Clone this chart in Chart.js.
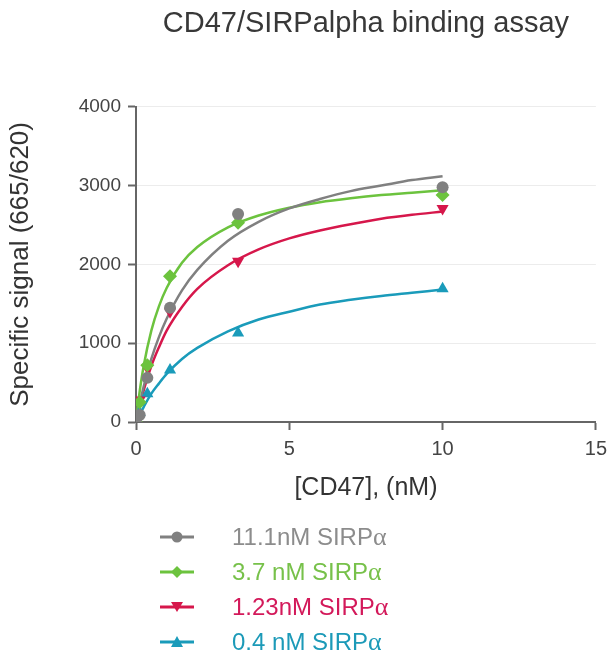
<!DOCTYPE html>
<html>
<head>
<meta charset="utf-8">
<script src="https://cdn.jsdelivr.net/npm/chart.js@4.4.1/dist/chart.umd.min.js"></script>
<style>
  html, body { margin: 0; padding: 0; background: #fff; }
  #wrap { position: relative; width: 614px; height: 659px; }
  #legend { position: absolute; left: 0; top: 0; width: 614px; height: 659px; pointer-events: none;
            font-family: "Liberation Sans", Arial, sans-serif; font-size: 24px; }
  .row { position: absolute; left: 158px; height: 30px; display: flex; align-items: center; white-space: nowrap; }
  .row svg { width: 40px; height: 20px; margin-right: 34px; }
  .greek { font-family: "Liberation Serif", "Times New Roman", serif; font-size: 26px; }
</style>
</head>
<body>
<div id="wrap">
  <canvas id="chart"></canvas>
  <div id="legend"></div>
</div>
<script>
// Series names and colours
const seriesNames = ['11.1nM SIRPα', '3.7 nM SIRPα', '1.23nM SIRPα', '0.4 nM SIRPα'];
const lineColors = ['#808080', '#6cc33e', '#d6174b', '#1a9bba'];
const textColors = ['#8c8c8c', '#77c14a', '#d3195a', '#1c9ab8'];
const markers = ['circle', 'rectRot', 'triangle', 'triangle'];
const markerRot = [0, 0, 180, 0];

const doseX = [0, 0.12, 0.37, 1.11, 3.33, 10];
const ptsGray  = [0, 90, 560, 1450, 2640, 2980];
const ptsGreen = [0, 250, 720, 1850, 2530, 2880];
const ptsRed   = [0, 280, 690, 1400, 2040, 2710];
const ptsBlue  = [0, 120, 360, 660, 1130, 1690];

// Fitted curves
const curveX = [0, 0.1, 0.25, 0.5, 0.75, 1, 1.5, 2, 3, 4, 5, 6, 7, 8, 9, 10];
const fitGray  = [0, 190, 450, 800, 1080, 1310, 1670, 1930, 2300, 2540, 2710, 2830, 2930, 3000, 3070, 3120];
const fitGreen = [0, 330, 710, 1160, 1470, 1700, 2020, 2220, 2470, 2620, 2720, 2790, 2840, 2880, 2910, 2940];
const fitRed   = [0, 180, 400, 710, 950, 1160, 1460, 1690, 1990, 2190, 2330, 2430, 2510, 2580, 2630, 2670];
const fitBlue  = [0, 80, 190, 360, 490, 610, 800, 940, 1150, 1300, 1400, 1490, 1550, 1600, 1640, 1680];

// Axis ticks
const xTicks = [0, 5, 10, 15];
const yTicks = [0, 1000, 2000, 3000, 4000];

const pts = [ptsGray, ptsGreen, ptsRed, ptsBlue];
const fits = [fitGray, fitGreen, fitRed, fitBlue];
const FONT = '"Liberation Sans", Arial, sans-serif';

function toXY(xs, ys) {
  return xs.map((x, i) => ({ x: x, y: ys[i] }));
}

const datasets = [];
// points first so they sit on top of the curves
pts.forEach((p, i) => {
  datasets.push({
    label: seriesNames[i],
    data: toXY(doseX, p),
    showLine: false,
    pointStyle: markers[i],
    pointRotation: markerRot[i],
    pointRadius: i === 0 ? 6 : 7,
    backgroundColor: lineColors[i],
    borderColor: lineColors[i],
    borderWidth: 0
  });
});
fits.forEach((f, i) => {
  datasets.push({
    label: seriesNames[i] + ' fit',
    data: toXY(curveX, f),
    showLine: true,
    pointRadius: 0,
    borderColor: lineColors[i],
    borderWidth: 2.5,
    cubicInterpolationMode: 'monotone'
  });
});

const ctx = document.getElementById('chart').getContext('2d');
const chart = new Chart(ctx, {
  type: 'scatter',
  data: { datasets: datasets },
  options: {
    responsive: true,
    maintainAspectRatio: false,
    animation: false,
    layout: { padding: { left: 0, right: 15, top: 0, bottom: 156 } },
    plugins: {
      legend: { display: false },
      tooltip: { enabled: false },
      title: {
        display: true,
        text: 'CD47/SIRPalpha binding assay',
        fullSize: false,
        color: '#383838',
        font: { family: FONT, size: 29, weight: 'normal' },
        padding: { top: 7, bottom: 65 }
      }
    },
    scales: {
      x: {
        type: 'linear',
        min: 0,
        max: 15,
        afterBuildTicks: function(scale) {
          scale.ticks = xTicks.map(v => ({ value: v }));
        },
        afterFit: function(scale) { scale.height = 81; },
        ticks: {
          color: '#444',
          padding: 7,
          callback: v => String(v),
          font: { family: FONT, size: 20 }
        },
        grid: { drawOnChartArea: false, tickColor: '#666', tickLength: 8, tickWidth: 2 },
        border: { color: '#666', width: 2 },
        title: {
          display: true,
          text: '[CD47], (nM)',
          color: '#333',
          padding: { top: 0, bottom: 0 },
          font: { family: FONT, size: 25 }
        }
      },
      y: {
        min: 0,
        max: 4000,
        afterBuildTicks: function(scale) {
          scale.ticks = yTicks.map(v => ({ value: v }));
        },
        afterFit: function(scale) { scale.width = 136; },
        ticks: {
          color: '#444',
          padding: 7,
          callback: v => String(v),
          font: { family: FONT, size: 19 }
        },
        grid: { color: '#ececec', lineWidth: 1, tickColor: '#666', tickLength: 8, tickWidth: 2 },
        border: { color: '#666', width: 2 },
        title: {
          display: true,
          text: 'Specific signal (665/620)',
          color: '#333',
          padding: { top: 5, bottom: 0 },
          font: { family: FONT, size: 26 }
        }
      }
    }
  }
});

// Vertical legend below the plot, built from the series
const rowCenters = [537, 572, 607, 642];
const legend = document.getElementById('legend');
function markerSvg(i) {
  const c = lineColors[i];
  let m = '';
  if (markers[i] === 'circle') m = '<circle cx="19" cy="10" r="5.5" fill="' + c + '"/>';
  else if (markers[i] === 'rectRot') m = '<polygon points="19,4 25,10 19,16 13,10" fill="' + c + '"/>';
  else if (markerRot[i] === 180) m = '<polygon points="13,5 25,5 19,15" fill="' + c + '"/>';
  else m = '<polygon points="19,4 25,15 13,15" fill="' + c + '"/>';
  return '<svg viewBox="0 0 40 20"><line x1="2" y1="10" x2="36" y2="10" stroke="' + c +
         '" stroke-width="3"/>' + m + '</svg>';
}
seriesNames.forEach((name, i) => {
  const row = document.createElement('div');
  row.className = 'row';
  row.style.top = (rowCenters[i] - 15) + 'px';
  const base = name.slice(0, -1);
  const greek = name.slice(-1);
  row.innerHTML = markerSvg(i) + '<span style="color:' + textColors[i] + '">' + base +
                  '<span class="greek">' + greek + '</span></span>';
  legend.appendChild(row);
});
</script>
</body>
</html>
